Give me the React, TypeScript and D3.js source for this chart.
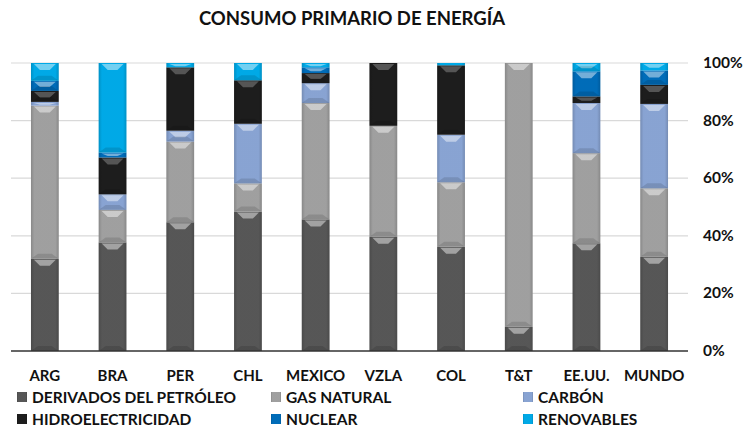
import { scaleBand, scaleLinear, stack } from "d3";

const categories = ["ARG", "BRA", "PER", "CHL", "MEXICO", "VZLA", "COL", "T&T", "EE.UU.", "MUNDO"];
const petroleo = [32, 37.7, 44.7, 48.4, 45.7, 39.7, 36.2, 8.4, 37.4, 32.7];
const gasNatural = [53.2, 11.3, 28, 9.8, 40.4, 38.5, 22.4, 91.6, 31.3, 23.8];
const carbon = [1.3, 5.4, 3.8, 20.7, 6.9, 0, 16.5, 0, 17.4, 29.3];
const hidro = [3.8, 12.8, 22, 15.1, 3.5, 21.8, 24.1, 0, 2.3, 6.6];
const nuclear = [3.5, 1.7, 0, 0, 2, 0, 0, 0, 8.7, 5.0];
const renovables = [6.2, 31.1, 1.5, 6, 1.5, 0, 0.8, 0, 2.9, 2.6];
const seriesNames = ["DERIVADOS DEL PETRÓLEO", "GAS NATURAL", "CARBÓN", "HIDROELECTRICIDAD", "NUCLEAR", "RENOVABLES"];
const yTicks = [0, 20, 40, 60, 80, 100];

const colors = ["#5a5a5a", "#a6a6a6", "#8eaadb", "#1e1e1e", "#0070c0", "#00b0f0"];
const font = "Lato, 'Open Sans', sans-serif";

const W = 745;
const H = 427;
const left = 11;
const right = 688;
const top = 63;
const bottom = 351;

export default function App() {
  const seriesData = [petroleo, gasNatural, carbon, hidro, nuclear, renovables];
  const rows = categories.map((c, i) => {
    const row: any = { cat: c };
    seriesNames.forEach((s, k) => (row[s] = seriesData[k][i]));
    return row;
  });
  const stacked = stack<any>().keys(seriesNames)(rows);

  const x = scaleBand().domain(categories).range([left, right]).paddingInner(0.59).paddingOuter(0.295);
  const y = scaleLinear().domain([0, 100]).range([bottom, top]);
  const bw = x.bandwidth();

  // legend layout: 3 columns, 2 rows
  const legendX = [17, 271, 523];
  const legendY = [397, 419];

  return (
    <svg width={W} height={H} style={{ position: "absolute", left: 0, top: 0 }} fontFamily={font}>
      <defs>
        <linearGradient id="side" x1="0" x2="1" y1="0" y2="0">
          <stop offset="0" stopColor="#000" stopOpacity={0.18} />
          <stop offset="0.12" stopColor="#000" stopOpacity={0.04} />
          <stop offset="0.88" stopColor="#000" stopOpacity={0.04} />
          <stop offset="1" stopColor="#000" stopOpacity={0.18} />
        </linearGradient>
      </defs>
      <rect width={W} height={H} fill="#fff" />
      <text x={352} y={25} textAnchor="middle" fontSize={18.5} fontWeight="bold" fill="#111">
        CONSUMO PRIMARIO DE ENERGÍA
      </text>

      {yTicks.map((t) => (
        <g key={t}>
          {t > 0 && <line x1={left} x2={right} y1={y(t)} y2={y(t)} stroke="#d9d9d9" strokeWidth={1.2} />}
          <text x={703} y={y(t) + 5} fontSize={15.5} fontWeight="bold" fill="#111">
            {t}%
          </text>
        </g>
      ))}

      {stacked.map((layer, k) => (
        <g key={layer.key}>
          {layer.map((d, i) => {
            const x0 = x(categories[i]) as number;
            const y0 = y(d[1]);
            const h = y(d[0]) - y(d[1]);
            if (h <= 0) return null;
            const cv = Math.min(6, h / 2);
            return (
              <g key={i}>
                <rect x={x0} y={y0} width={bw} height={h} fill={colors[k]} />
                <rect x={x0} y={y0} width={bw} height={h} fill="url(#side)" />
                {h > 3 && (
                  <polygon
                    points={`${x0 + 3},${y0 + 1} ${x0 + bw - 3},${y0 + 1} ${x0 + bw - 9},${y0 + cv + 1} ${x0 + 9},${y0 + cv + 1}`}
                    fill="#fff"
                    opacity={k === 3 ? 0.25 : 0.45}
                  />
                )}
                {h > 8 && (
                  <polygon
                    points={`${x0},${y0 + h} ${x0 + bw},${y0 + h} ${x0 + bw - 7},${y0 + h - 5} ${x0 + 7},${y0 + h - 5}`}
                    fill="#000"
                    opacity={0.12}
                  />
                )}
              </g>
            );
          })}
        </g>
      ))}

      <line x1={left} x2={right} y1={bottom} y2={bottom} stroke="#333" strokeWidth={1.5} />

      {categories.map((c) => (
        <text key={c} x={(x(c) as number) + bw / 2} y={381} textAnchor="middle" fontSize={15} fontWeight="bold" fill="#111">
          {c}
        </text>
      ))}

      {seriesNames.map((s, k) => {
        const lx = legendX[k % 3];
        const ly = legendY[Math.floor(k / 3)];
        return (
          <g key={s}>
            <rect x={lx} y={ly - 5} width={10} height={10} fill={colors[k]} />
            <rect x={lx} y={ly - 5} width={10} height={10} fill="url(#side)" />
            <text x={lx + 15} y={ly + 5.5} fontSize={15.5} fontWeight="bold" fill="#111">
              {s}
            </text>
          </g>
        );
      })}
    </svg>
  );
}
